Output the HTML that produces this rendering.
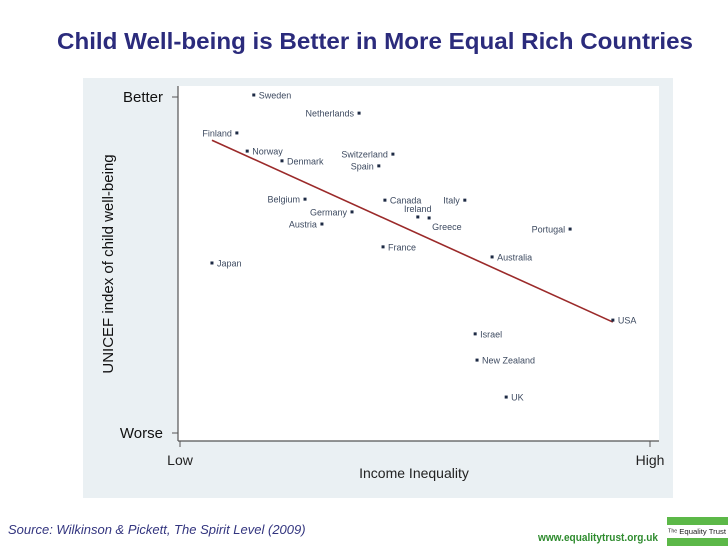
<!DOCTYPE html>
<html><head><meta charset="utf-8"><style>
html,body{margin:0;padding:0;background:#fff;width:728px;height:546px;overflow:hidden}
svg{display:block;font-family:"Liberation Sans",Arial,sans-serif}
</style></head><body>
<svg id="chart" width="728" height="546" viewBox="0 0 728 546">
<text x="375" y="49" text-anchor="middle" font-size="23" font-weight="bold" fill="#2b2b7c" textLength="636" lengthAdjust="spacingAndGlyphs">Child Well-being is Better in More Equal Rich Countries</text>
<rect x="83" y="78" width="590" height="420" fill="#eaf0f3"/>
<rect x="178" y="86" width="481" height="355" fill="#ffffff"/>
<g id="axes" stroke="#555" stroke-width="1.2" fill="none">
<line x1="178" y1="86" x2="178" y2="441"/>
<line x1="178" y1="441" x2="659" y2="441"/>
</g>
<g id="ticks"></g>
<g id="fit"></g>
<g id="points"></g>
<text x="414" y="478" text-anchor="middle" font-size="14" fill="#222">Income Inequality</text>
<text transform="translate(113,264) rotate(-90)" text-anchor="middle" font-size="15" fill="#111">UNICEF index of child well-being</text>
<text x="8" y="534" font-size="13" font-style="italic" fill="#33357f">Source: Wilkinson &amp; Pickett, The Spirit Level (2009)</text>
<text x="538" y="541" font-size="11" font-weight="bold" fill="#2e8b2e" textLength="120" lengthAdjust="spacingAndGlyphs">www.equalitytrust.org.uk</text>
<g>
<rect x="667" y="517" width="61" height="8" fill="#5cb848"/>
<rect x="667" y="538" width="61" height="8" fill="#5cb848"/>
<text x="668" y="534" font-size="7.5" fill="#222" textLength="58" lengthAdjust="spacingAndGlyphs">ᵀʰᵉ Equality Trust</text>
</g>
</svg>
<script>
const countries = ["Sweden","Netherlands","Finland","Norway","Denmark","Switzerland","Spain","Belgium","Canada","Italy","Ireland","Greece","Germany","Austria","Portugal","France","Australia","Japan","USA","Israel","New Zealand","UK"];
const inequality = [15.7,38.1,12.1,14.3,21.7,45.3,42.3,26.6,43.6,60.6,50.6,53.0,36.6,30.2,83.0,43.2,66.4,6.8,92.1,62.8,63.2,69.4];
const wellbeing = [100.6,95.2,89.3,83.9,81.0,83.0,79.5,69.6,69.3,69.3,64.3,64.0,65.8,62.2,60.7,55.4,52.4,50.6,33.6,29.5,21.7,10.7];
const labelSide = ["r","l","l","r","r","l","l","l","r","l","t","b","l","l","l","r","r","r","r","r","r","r"];
const xTickLabels = ["Low","High"];
const xTickValues = [0,100];
const yTickLabels = ["Worse","Better"];
const yTickValues = [0,100];

const NS="http://www.w3.org/2000/svg";
const xs=v=>180+v*4.7;
const ys=v=>433-v*3.36;
function mk(tag,attrs,parent){const e=document.createElementNS(NS,tag);for(const k in attrs)e.setAttribute(k,attrs[k]);parent.appendChild(e);return e;}
const ticks=document.getElementById('ticks');
xTickValues.forEach((v,i)=>{
  const l=mk('line',{x1:xs(v),x2:xs(v),y1:441,y2:447,stroke:'#555'},ticks);
  
  
  const t=mk('text',{x:xs(v),y:465,'text-anchor':'middle','font-size':14,fill:'#222'},ticks);
  t.textContent=xTickLabels[i];
  
  
});
yTickValues.forEach((v,i)=>{
  const l=mk('line',{x1:172,x2:178,y1:ys(v),y2:ys(v),stroke:'#555'},ticks);
  
  
  const t=mk('text',{x:163,y:ys(v)+5,'text-anchor':'end','font-size':15,fill:'#111'},ticks);
  t.textContent=yTickLabels[i];
  
  
});
const n=inequality.length;
const mx=inequality.reduce((a,b)=>a+b)/n, my=wellbeing.reduce((a,b)=>a+b)/n;
let sxy=0,sxx=0;for(let i=0;i<n;i++){sxy+=(inequality[i]-mx)*(wellbeing[i]-my);sxx+=(inequality[i]-mx)**2;}
const slope=sxy/sxx, icpt=my-slope*mx;
const x0=Math.min(...inequality), x1=Math.max(...inequality);
const fl=mk('line',{x1:xs(x0),y1:ys(icpt+slope*x0),x2:xs(x1),y2:ys(icpt+slope*x1),stroke:'#9b2a2a','stroke-width':1.6},document.getElementById('fit'));


const pts=document.getElementById('points');
countries.forEach((c,i)=>{
  const px=xs(inequality[i]), py=ys(wellbeing[i]);
  const d=mk('rect',{x:px-1.5,y:py-1.5,width:3,height:3,fill:'#1d2a44'},pts);
  
  
  let a={x:px+5,y:py+3.5,'text-anchor':'start'};
  if(labelSide[i]==='l')a={x:px-5,y:py+3.5,'text-anchor':'end'};
  if(labelSide[i]==='t')a={x:px,y:py-5,'text-anchor':'middle'};
  if(labelSide[i]==='b')a={x:px+3,y:py+12,'text-anchor':'start'};
  a['font-size']=9;a.fill='#3d4a60';
  const t=mk('text',a,pts);
  t.textContent=c;
  
  
});
</script>
</body></html>
